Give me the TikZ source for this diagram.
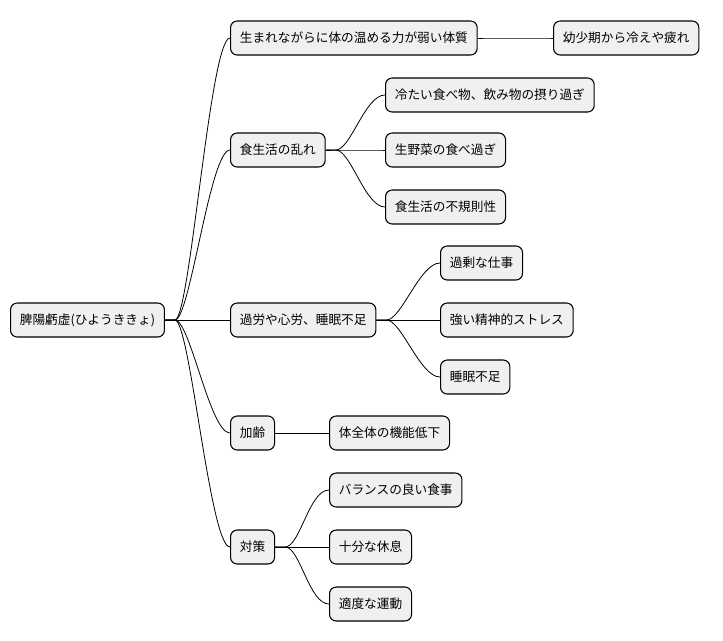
\documentclass[tikz,border=0pt]{standalone}
\usepackage{fontspec}
\newfontfamily\cjk{Noto Sans CJK JP}
\begin{document}
\begin{tikzpicture}[x=0.75pt,y=-0.75pt,
  box/.style={draw=black,fill=black!6,rounded corners=5pt,line width=0.8pt,minimum height=25.5pt,inner xsep=7pt,anchor=west,font=\cjk\fontsize{9.5}{11}\selectfont},
  link/.style={line width=0.6pt}]
\useasboundingbox (0,0) rectangle (723,640);
\node[box] (r) at (10,320) {脾陽虧虚(ひようききょ)};
\node[box] (a) at (230,38) {生まれながらに体の温める力が弱い体質};
\node[box] (a1) at (553,38) {幼少期から冷えや疲れ};
\node[box] (b) at (230,150) {食生活の乱れ};
\node[box] (b1) at (385,95) {冷たい食べ物、飲み物の摂り過ぎ};
\node[box] (b2) at (385,150) {生野菜の食べ過ぎ};
\node[box] (b3) at (385,207) {食生活の不規則性};
\node[box] (c) at (230,320) {過労や心労、睡眠不足};
\node[box] (c1) at (440,263) {過剰な仕事};
\node[box] (c2) at (440,320) {強い精神的ストレス};
\node[box] (c3) at (440,377) {睡眠不足};
\node[box] (d) at (230,433) {加齢};
\node[box] (d1) at (329,433) {体全体の機能低下};
\node[box] (e) at (230,547) {対策};
\node[box] (e1) at (329,490) {バランスの良い食事};
\node[box] (e2) at (329,547) {十分な休息};
\node[box] (e3) at (329,604) {適度な運動};
\foreach \p/\c in {r/a,r/b,r/c,r/d,r/e,a/a1,b/b1,b/b2,b/b3,c/c1,c/c2,c/c3,d/d1,e/e1,e/e2,e/e3}
  \draw[link] (\p.east) -- ++(10,0) coordinate (s) .. controls ++(15,0) and ([xshift=-15]\c.west) .. (\c.west);
\end{tikzpicture}
\end{document}
